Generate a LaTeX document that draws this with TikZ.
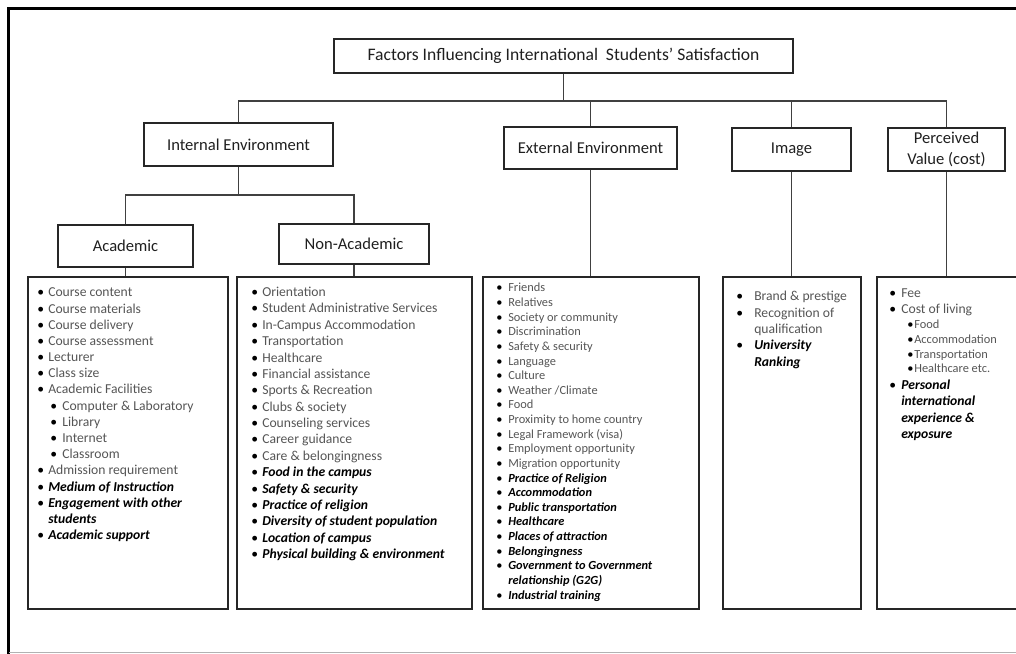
\documentclass[tikz,border=0pt]{standalone}
\usepackage{fontspec}
\setmainfont{Carlito}
\definecolor{itemgray}{HTML}{555555}
\definecolor{boxline}{HTML}{262626}
\newcommand{\itm}[2][0.275cm]{\makebox[#1][l]{\color{black}\textbullet}#2}
\newcommand{\sitm}[2][0.325cm]{\hspace*{#1}\itm[0.3cm]{#2}}
\newcommand{\cont}[2][0.275cm]{\hspace*{#1}#2}
\newcommand{\bi}[1]{{\color{black}\bfseries\itshape #1}}
\begin{document}
\begin{tikzpicture}[x=0.025cm, y=-0.025cm,
  hbox/.style={draw=boxline, line width=1.4pt, inner sep=0pt, align=center, text=black!88, font={\fontsize{11.8}{14.8}\selectfont}},
  lbox/.style={draw=boxline, line width=1.4pt, minimum height=8.3cm, inner sep=0pt},
  ltext/.style={anchor=north west, inner sep=0pt, align=left, text=itemgray, font={\fontsize{9.7}{11.5}\selectfont}},
  conn/.style={draw=black!75, line width=1.05pt}]
\useasboundingbox (0,0) rectangle (1016,653);
\clip (0,0) rectangle (1016,653);
% outer frame
\draw[black, line width=1.9pt] (8.8,660)--(8.8,8.5)--(1030,8.5);
\draw[black!30, line width=0.7pt] (8.8,652)--(1030,652);
% headings
\node[hbox, minimum width=11.475cm, minimum height=0.85cm, font={\fontsize{12.5}{15}\selectfont}] (title) at (563.5,56) {Factors Influencing International\ \ Students’ Satisfaction};
\node[hbox, minimum width=4.725cm, minimum height=1.075cm] (internal) at (238.5,144.5) {Internal Environment};
\node[hbox, minimum width=4.325cm, minimum height=1.05cm] (external) at (590.5,148) {External Environment};
\node[hbox, minimum width=2.975cm, minimum height=1.075cm] (image) at (791.5,149.5) {Image};
\node[hbox, minimum width=2.925cm, minimum height=1.075cm] (perceived) at (946.5,149.5) {Perceived\\Value (cost)};
\node[hbox, minimum width=3.375cm, minimum height=1.05cm] (academic) at (125.5,246) {Academic};
\node[hbox, minimum width=3.75cm, minimum height=1cm] (nonacad) at (354,244) {Non-Academic};
% list boxes
\node[lbox, minimum width=5cm] (acadlist) at (128,443) {};
\node[lbox, minimum width=5.875cm] (nonlist) at (354.5,443) {};
\node[lbox, minimum width=5.4cm] (extlist) at (591,443) {};
\node[lbox, minimum width=3.45cm] (imglist) at (792,443) {};
\node[lbox, minimum width=3.75cm] (perclist) at (952,443) {};
% connectors
\coordinate (bus) at (0,101);
\coordinate (subbus) at (0,195);
\draw[conn] (title.south) -- (title.south |- bus);
\draw[conn] (internal.north) |- (perceived.north |- bus) -- (perceived.north);
\draw[conn] (external.north) -- (external.north |- bus);
\draw[conn] (image.north) -- (image.north |- bus);
\draw[conn] (internal.south) -- (internal.south |- subbus);
\draw[conn] (academic.north) |- (nonacad.north |- subbus) -- (nonacad.north);
\draw[conn] (academic.south) -- (academic.south |- acadlist.north);
\draw[conn] (nonacad.south) -- (nonacad.south |- nonlist.north);
\draw[conn] (external.south) -- (external.south |- extlist.north);
\draw[conn] (image.south) -- (image.south |- imglist.north);
\draw[conn] (perceived.south) -- (perceived.south |- perclist.north);
% list texts
\node[ltext] (acadtext) at (37,287.8) {\itm{Course content}\\ \itm{Course materials}\\ \itm{Course delivery}\\
 \itm{Course assessment}\\ \itm{Lecturer}\\ \itm{Class size}\\ \itm{Academic Facilities}\\
 \sitm{Computer \& Laboratory}\\ \sitm{Library}\\ \sitm{Internet}\\ \sitm{Classroom}\\
 \itm{Admission requirement}\\ \itm{\bi{Medium of Instruction}}\\ \itm{\bi{Engagement with other}}\\
 \cont{\bi{students}}\\ \itm{\bi{Academic support}}};
\node[ltext, font={\fontsize{9.7}{11.65}\selectfont}] (nontext) at (251,286.8) {\itm{Orientation}\\ \itm{Student Administrative Services}\\
 \itm{In-Campus Accommodation}\\ \itm{Transportation}\\ \itm{Healthcare}\\ \itm{Financial assistance}\\
 \itm{Sports \& Recreation}\\ \itm{Clubs \& society}\\ \itm{Counseling services}\\ \itm{Career guidance}\\
 \itm{Care \& belongingness}\\ \itm{\bi{Food in the campus}}\\ \itm{\bi{Safety \& security}}\\
 \itm{\bi{Practice of religion}}\\ \itm{\bi{Diversity of student population}}\\ \itm{\bi{Location of campus}}\\
 \itm{\bi{Physical building \& environment}}};
\node[ltext, font={\fontsize{8.8}{10.4}\selectfont}] (exttext) at (496,283) {\itm[0.3cm]{Friends}\\ \itm[0.3cm]{Relatives}\\
 \itm[0.3cm]{Society or community}\\ \itm[0.3cm]{Discrimination}\\ \itm[0.3cm]{Safety \& security}\\
 \itm[0.3cm]{Language}\\ \itm[0.3cm]{Culture}\\ \itm[0.3cm]{Weather /Climate}\\ \itm[0.3cm]{Food}\\
 \itm[0.3cm]{Proximity to home country}\\ \itm[0.3cm]{Legal Framework (visa)}\\ \itm[0.3cm]{Employment opportunity}\\
 \itm[0.3cm]{Migration opportunity}\\ \itm[0.3cm]{\bi{Practice of Religion}}\\ \itm[0.3cm]{\bi{Accommodation}}\\
 \itm[0.3cm]{\bi{Public transportation}}\\ \itm[0.3cm]{\bi{Healthcare}}\\ \itm[0.3cm]{\bi{Places of attraction}}\\
 \itm[0.3cm]{\bi{Belongingness}}\\ \itm[0.3cm]{\bi{Government to Government}}\\ \cont[0.3cm]{\bi{relationship (G2G)}}\\
 \itm[0.3cm]{\bi{Industrial training}}};
\node[ltext, font={\fontsize{9.7}{11.7}\selectfont}] (imgtext) at (736,290.8) {\itm[0.45cm]{Brand \& prestige}\\
 \itm[0.45cm]{Recognition of}\\ \cont[0.45cm]{qualification}\\ \itm[0.45cm]{\bi{University}}\\ \cont[0.45cm]{\bi{Ranking}}};
\node[ltext, font={\fontsize{9.7}{11.7}\selectfont}] (perctext) at (889,288.3) {\itm[0.3cm]{Fee}\\ \itm[0.3cm]{Cost of living}\\[-1.2pt]
 \hspace*{0.45cm}{\fontsize{8.8}{10}\selectfont\itm[0.175cm]{Food}}\\[-1.2pt] \hspace*{0.45cm}{\fontsize{8.8}{10}\selectfont\itm[0.175cm]{Accommodation}}\\[-1.2pt]
 \hspace*{0.45cm}{\fontsize{8.8}{10}\selectfont\itm[0.175cm]{Transportation}}\\[-1.2pt] \hspace*{0.45cm}{\fontsize{8.8}{10}\selectfont\itm[0.175cm]{Healthcare etc.}}\\
 \itm[0.3cm]{\bi{Personal}}\\ \cont[0.3cm]{\bi{international}}\\ \cont[0.3cm]{\bi{experience \&}}\\ \cont[0.3cm]{\bi{exposure}}};
\end{tikzpicture}
\end{document}
